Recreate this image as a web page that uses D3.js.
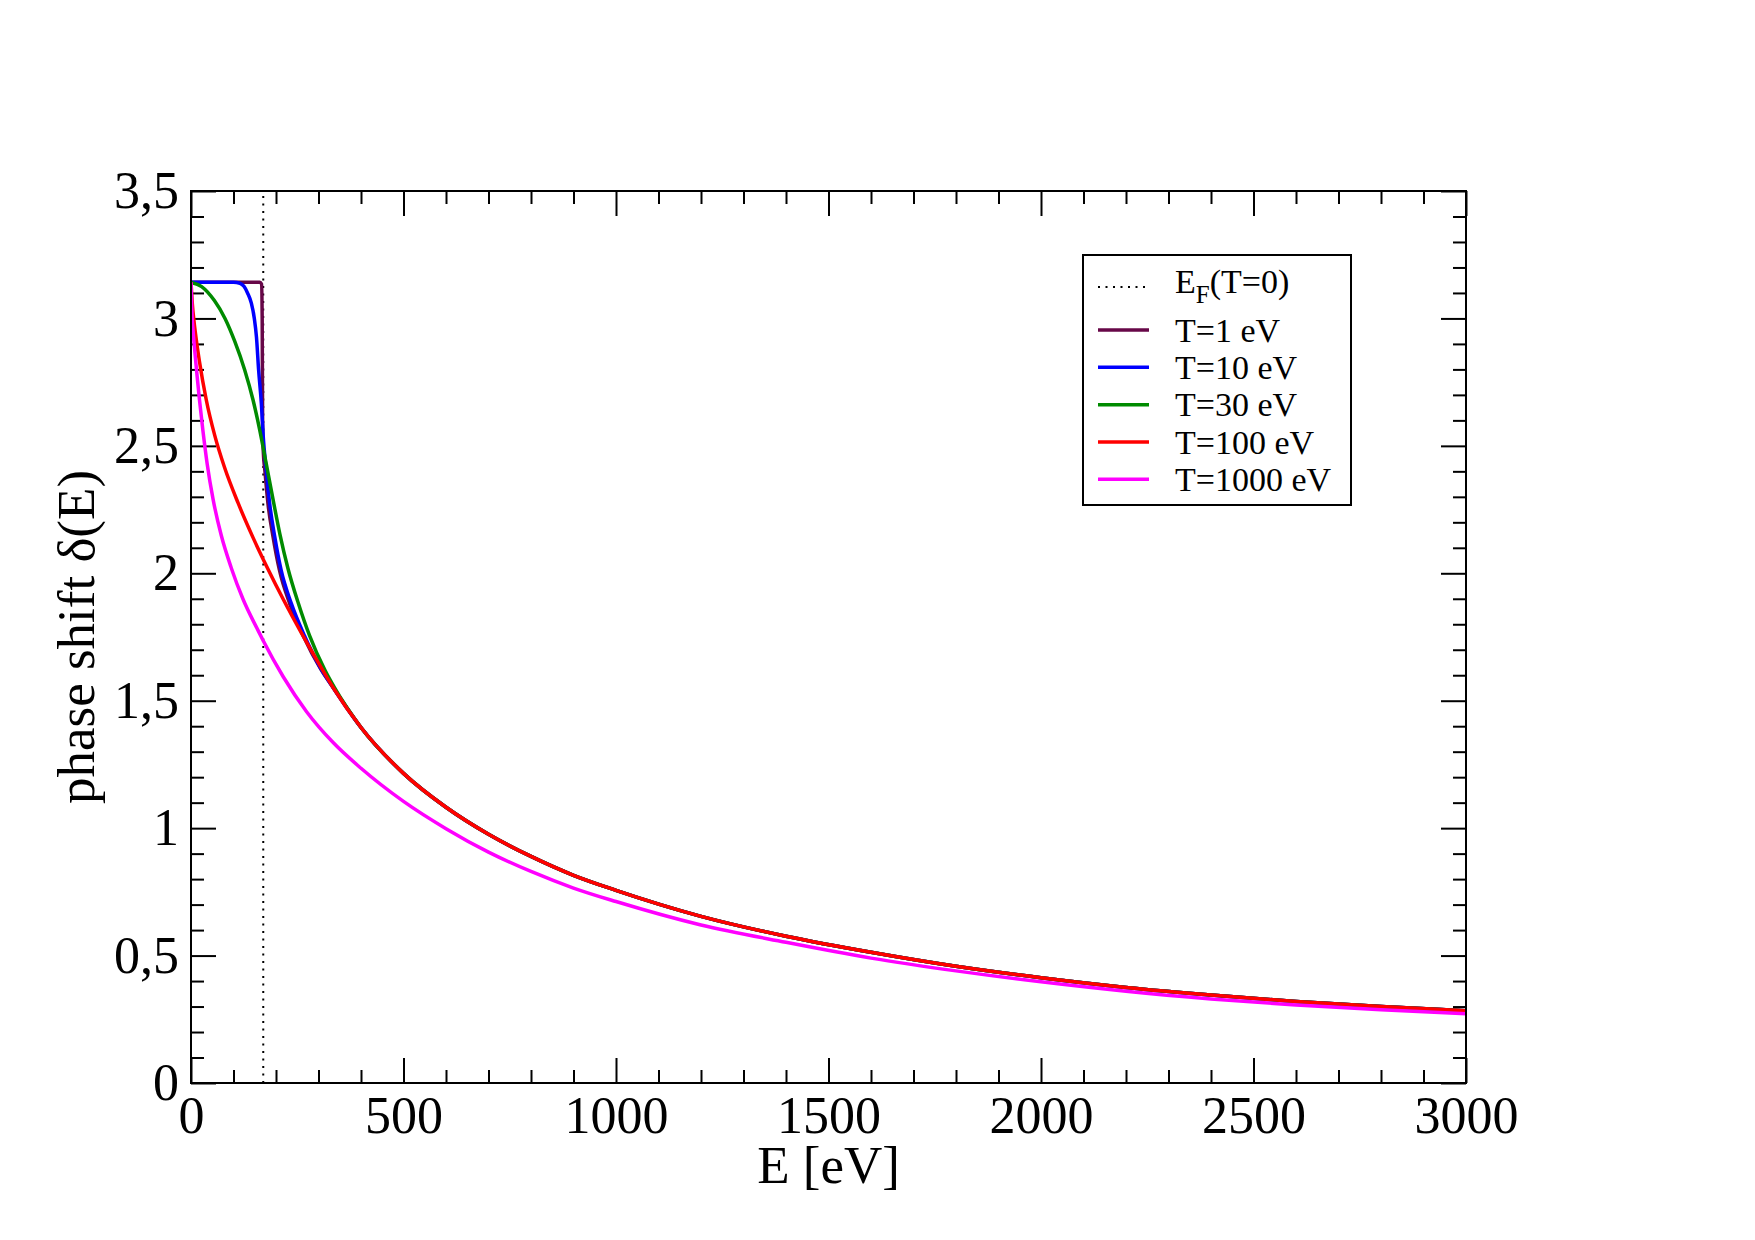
<!DOCTYPE html>
<html>
<head>
<meta charset="utf-8">
<script src="https://cdn.jsdelivr.net/npm/d3@7"></script>
<style>
  body { margin: 0; background: #fff; }
  text { font-family: "Liberation Serif", "Times New Roman", serif; }
</style>
</head>
<body>
<div id="chart"></div>
<script>
// Fermi energy at T=0 (dotted vertical line)
const fermiEnergy = 170;

// T=1 eV
const energyT1 = [0, 100, 162, 166, 167.5, 168.5, 170, 174, 181, 193, 208, 232, 264, 305, 335, 400, 500, 600, 700, 800, 900, 1000, 1200, 1400, 1600, 1800, 2000, 2200, 2400, 2600, 2800, 3000];
const deltaT1  = [3.1416, 3.1416, 3.1416, 3.135, 3.0, 2.6, 2.48, 2.40, 2.275, 2.144, 2.013, 1.882, 1.755, 1.625, 1.55, 1.395, 1.215, 1.082, 0.976, 0.889, 0.815, 0.756, 0.654, 0.576, 0.513, 0.458, 0.413, 0.375, 0.345, 0.320, 0.300, 0.283];

// T=10 eV
const energyT10 = [0, 100, 115, 125, 133, 142, 149, 154, 159, 165.5, 170, 177, 185, 197, 212, 236, 267, 306, 335, 400, 500, 600, 700, 800, 900, 1000, 1200, 1400, 1600, 1800, 2000, 2200, 2400, 2600, 2800, 3000];
const deltaT10  = [3.1416, 3.1416, 3.138, 3.125, 3.10, 3.06, 3.0, 2.928, 2.80, 2.667, 2.536, 2.405, 2.275, 2.144, 2.013, 1.882, 1.755, 1.625, 1.55, 1.395, 1.215, 1.082, 0.976, 0.889, 0.815, 0.756, 0.654, 0.576, 0.513, 0.458, 0.413, 0.375, 0.345, 0.320, 0.300, 0.283];

// T=30 eV
const energyT30 = [0, 25, 55, 80, 103, 126, 146, 162, 177, 193, 209, 228, 252, 279, 315, 338, 400, 500, 600, 700, 800, 900, 1000, 1200, 1400, 1600, 1800, 2000, 2200, 2400, 2600, 2800, 3000];
const deltaT30  = [3.1416, 3.125, 3.07, 3.0, 2.91, 2.80, 2.68, 2.56, 2.43, 2.29, 2.155, 2.02, 1.885, 1.755, 1.62, 1.55, 1.395, 1.215, 1.082, 0.976, 0.889, 0.815, 0.756, 0.654, 0.576, 0.513, 0.458, 0.413, 0.375, 0.345, 0.320, 0.300, 0.283];

// T=100 eV
const energyT100 = [0, 3, 7, 13, 20, 36, 56, 79, 111, 146, 181, 217, 260, 307, 335, 400, 500, 600, 700, 800, 900, 1000, 1200, 1400, 1600, 1800, 2000, 2200, 2400, 2600, 2800, 3000];
const deltaT100  = [3.1416, 3.06, 2.99, 2.91, 2.83, 2.68, 2.54, 2.415, 2.275, 2.14, 2.017, 1.898, 1.765, 1.628, 1.55, 1.395, 1.215, 1.082, 0.976, 0.889, 0.815, 0.756, 0.654, 0.576, 0.513, 0.458, 0.413, 0.375, 0.345, 0.320, 0.300, 0.283];

// T=1000 eV
const energyT1000 = [0, 2, 5, 9, 14, 20, 28, 38, 52, 71, 95, 122, 158, 170, 217, 272, 335, 400, 500, 600, 700, 800, 900, 1000, 1200, 1400, 1600, 1800, 2000, 2200, 2400, 2600, 2800, 3000];
const deltaT1000  = [3.1416, 3.03, 2.95, 2.87, 2.78, 2.68, 2.56, 2.43, 2.29, 2.15, 2.02, 1.90, 1.775, 1.735, 1.594, 1.457, 1.335, 1.235, 1.105, 0.998, 0.906, 0.830, 0.765, 0.712, 0.620, 0.552, 0.490, 0.440, 0.397, 0.360, 0.330, 0.306, 0.287, 0.272];

const seriesLabels = ["T=1 eV", "T=10 eV", "T=30 eV", "T=100 eV", "T=1000 eV"];
const seriesColors = ["#670748", "#0000ff", "#008b00", "#ff0000", "#ff00ff"];
const seriesEnergy = [energyT1, energyT10, energyT30, energyT100, energyT1000];
const seriesDelta  = [deltaT1, deltaT10, deltaT30, deltaT100, deltaT1000];

const xTickValues = [0, 500, 1000, 1500, 2000, 2500, 3000];
const xTickLabels = ["0", "500", "1000", "1500", "2000", "2500", "3000"];
const yTickValues = [0, 0.5, 1, 1.5, 2, 2.5, 3, 3.5];
const yTickLabels = ["0", "0,5", "1", "1,5", "2", "2,5", "3", "3,5"];

const W = 1755, H = 1240;
const margin = { top: 191, right: 289, bottom: 157, left: 191 };
const plotLeft = margin.left, plotRight = W - margin.right;
const plotTop = margin.top, plotBottom = H - margin.bottom;

const svg = d3.select("#chart").append("svg")
    .attr("width", W)
    .attr("height", H);

const x = d3.scaleLinear().domain([0, 3000]).range([plotLeft, plotRight]);
const y = d3.scaleLinear().domain([0, 3.5]).range([plotBottom, plotTop]);

svg.append("defs").append("clipPath")
    .attr("id", "plotclip")
  .append("rect")
    .attr("x", plotLeft).attr("y", plotTop)
    .attr("width", plotRight - plotLeft).attr("height", plotBottom - plotTop);

// ticks, all pointing inward
const xMinor = x.ticks(30).filter(v => !xTickValues.includes(v));
const yMinor = y.ticks(35).filter(v => !yTickValues.some(t => Math.abs(t - v) < 1e-9));

function styleAxis(g) {
    g.select(".domain").remove();
    g.selectAll(".tick line").attr("stroke", "#000").attr("stroke-width", 2);
}

svg.append("g")
    .attr("transform", `translate(0,${plotBottom})`)
    .call(d3.axisBottom(x).tickValues(xTickValues).tickSize(-25).tickPadding(13)
        .tickFormat((d, i) => xTickLabels[i]))
    .call(styleAxis)
    .attr("font-size", 52)
    .selectAll("text").attr("fill", "#000");

svg.append("g")
    .attr("transform", `translate(0,${plotBottom})`)
    .call(d3.axisBottom(x).tickValues(xMinor).tickSize(-13).tickFormat(""))
    .call(styleAxis);

svg.append("g")
    .attr("transform", `translate(0,${plotTop})`)
    .call(d3.axisTop(x).tickValues(xTickValues).tickSize(-25).tickFormat(""))
    .call(styleAxis);

svg.append("g")
    .attr("transform", `translate(0,${plotTop})`)
    .call(d3.axisTop(x).tickValues(xMinor).tickSize(-13).tickFormat(""))
    .call(styleAxis);

svg.append("g")
    .attr("transform", `translate(${plotLeft},0)`)
    .call(d3.axisLeft(y).tickValues(yTickValues).tickSize(-25).tickPadding(12)
        .tickFormat((d, i) => yTickLabels[i]))
    .call(styleAxis)
    .attr("font-size", 52)
    .selectAll("text").attr("fill", "#000");

svg.append("g")
    .attr("transform", `translate(${plotLeft},0)`)
    .call(d3.axisLeft(y).tickValues(yMinor).tickSize(-13).tickFormat(""))
    .call(styleAxis);

svg.append("g")
    .attr("transform", `translate(${plotRight},0)`)
    .call(d3.axisRight(y).tickValues(yTickValues).tickSize(-25).tickFormat(""))
    .call(styleAxis);

svg.append("g")
    .attr("transform", `translate(${plotRight},0)`)
    .call(d3.axisRight(y).tickValues(yMinor).tickSize(-13).tickFormat(""))
    .call(styleAxis);

// Fermi energy line
svg.append("line")
    .attr("x1", x(fermiEnergy)).attr("x2", x(fermiEnergy))
    .attr("y1", y(0)).attr("y2", y(3.5))
    .attr("stroke", "#000")
    .attr("stroke-width", 2)
    .attr("stroke-dasharray", "2,5.5");

// curves
const line = d3.line()
    .x(d => x(d[0]))
    .y(d => y(d[1]))
    .curve(d3.curveMonotoneX);

const plot = svg.append("g").attr("clip-path", "url(#plotclip)");
seriesLabels.forEach(function(label, i) {
    plot.append("path")
        .datum(d3.zip(seriesEnergy[i], seriesDelta[i]))
        .attr("fill", "none")
        .attr("stroke", seriesColors[i])
        .attr("stroke-width", 3.5)
        .attr("stroke-linejoin", "round")
        .attr("d", line);
});

// frame
svg.append("rect")
    .attr("x", plotLeft).attr("y", plotTop)
    .attr("width", plotRight - plotLeft).attr("height", plotBottom - plotTop)
    .attr("fill", "none")
    .attr("stroke", "#000")
    .attr("stroke-width", 2);

// axis titles
svg.append("text")
    .attr("x", (plotLeft + plotRight) / 2)
    .attr("y", 1183)
    .attr("text-anchor", "middle")
    .attr("font-size", 53)
    .text("E [eV]");

svg.append("text")
    .attr("transform", `translate(94,${(plotTop + plotBottom) / 2}) rotate(-90)`)
    .attr("text-anchor", "middle")
    .attr("font-size", 53)
    .text("phase shift δ(E)");

// legend
const legend = svg.append("g");
legend.append("rect")
    .attr("x", 1083).attr("y", 255)
    .attr("width", 268).attr("height", 250)
    .attr("fill", "#fff")
    .attr("stroke", "#000")
    .attr("stroke-width", 2);

legend.append("line")
    .attr("x1", 1098).attr("x2", 1149)
    .attr("y1", 287).attr("y2", 287)
    .attr("stroke", "#000")
    .attr("stroke-width", 2)
    .attr("stroke-dasharray", "2,5.5");

const ef = legend.append("text")
    .attr("x", 1175).attr("y", 293)
    .attr("font-size", 34);
ef.append("tspan").text("E");
ef.append("tspan").attr("font-size", 25).attr("dy", 10).text("F");
ef.append("tspan").attr("dy", -10).text("(T=0)");

const rowY = [330, 367.3, 404.7, 442, 479.3];
seriesLabels.forEach(function(label, i) {
    legend.append("line")
        .attr("x1", 1098).attr("x2", 1149)
        .attr("y1", rowY[i]).attr("y2", rowY[i])
        .attr("stroke", seriesColors[i])
        .attr("stroke-width", 3.5);
    legend.append("text")
        .attr("x", 1175).attr("y", rowY[i] + 11.5)
        .attr("font-size", 34)
        .text(label);
});
</script>
</body>
</html>
